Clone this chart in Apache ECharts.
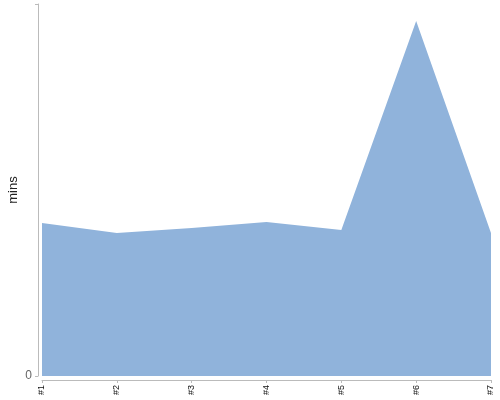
<!DOCTYPE html>
<html><head><meta charset="utf-8">
<script src="https://cdn.jsdelivr.net/npm/echarts@6/dist/echarts.min.js"></script>
<style>html,body{margin:0;padding:0;background:#fff}#c{width:500px;height:400px}</style>
</head><body><div id="c"></div>
<script>
const categories = ['#1', '#2', '#3', '#4', '#5', '#6', '#7'];
const minutes = [15.3, 14.3, 14.8, 15.4, 14.6, 35.5, 14.3];
const yTickLabels = ['0'];
const yMax = 37.2;

const chart = echarts.init(document.getElementById('c'), null, {renderer: 'canvas'});
chart.setOption({
  animation: false,
  grid: {left: 42, right: 9, top: 4, bottom: 24, containLabel: false, outerBoundsMode: 'none'},
  xAxis: {
    type: 'category', data: categories, boundaryGap: false, offset: 4,
    axisLine: {onZero: false, lineStyle: {color: '#bbb'}},
    axisTick: {show: true, length: 3, lineStyle: {color: '#bbb'}},
    axisLabel: {rotate: 90, fontSize: 9, color: '#111', fontFamily: 'Liberation Sans, Arial', margin: 5}
  },
  yAxis: {
    type: 'value', min: 0, max: yMax, interval: yMax, offset: 4,
    name: 'mins', nameLocation: 'middle', nameGap: 18, nameMoveOverlap: false,
    nameTextStyle: {fontSize: 13, color: '#222', fontFamily: 'Liberation Sans, Arial'},
    splitLine: {show: false},
    axisLine: {show: true, onZero: false, lineStyle: {color: '#bbb'}},
    axisTick: {show: true, length: 3, lineStyle: {color: '#bbb'}},
    axisLabel: {fontSize: 12, color: '#666', fontFamily: 'Liberation Sans, Arial', margin: 6,
      formatter: v => v === 0 ? yTickLabels[0] : ''}
  },
  series: [{
    type: 'line', data: minutes, symbol: 'none',
    lineStyle: {width: 0, color: '#90b3db'},
    areaStyle: {color: '#90b3db', opacity: 1}
  }]
});
</script></body></html>
